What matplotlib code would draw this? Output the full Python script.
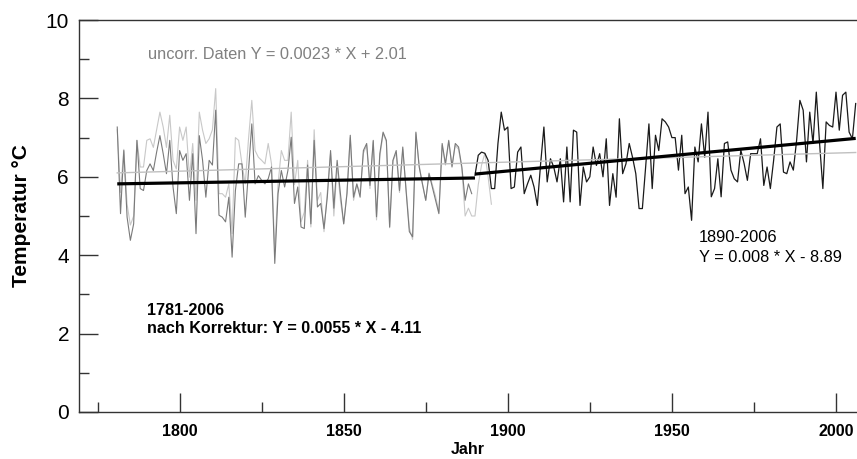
import matplotlib
matplotlib.use("Agg")
import matplotlib.pyplot as plt
import numpy as np

plt.rcParams['font.family'] = ['Liberation Sans', 'DejaVu Sans']

# corrected annual mean temperature, 1781-1889 (grey) and 1890-2006 (black)
years_early = np.arange(1781, 1890)
temp_early = [
    7.27, 5.06, 6.67, 4.97, 4.38, 4.80, 6.93, 5.70, 5.65, 6.16,
    6.33, 6.16, 6.63, 7.05, 6.59, 6.08, 6.93, 5.74, 5.06, 6.67,
    6.42, 6.59, 5.40, 6.59, 4.55, 7.05, 6.42, 5.48, 6.42, 6.30,
    7.70, 5.02, 4.97, 4.85, 5.48, 3.95, 5.65, 6.33, 6.33, 4.97,
    6.16, 7.35, 5.82, 6.03, 5.91, 5.82, 5.95, 6.25, 3.79, 5.57,
    6.16, 5.74, 6.16, 7.01, 5.32, 5.74, 4.72, 4.68, 6.30, 4.80,
    6.93, 5.23, 5.32, 4.68, 5.48, 6.67, 5.20, 6.42, 5.57, 4.80,
    5.57, 7.06, 5.48, 5.82, 5.48, 6.67, 6.85, 5.78, 6.93, 4.98,
    6.59, 7.14, 6.93, 4.72, 6.42, 6.67, 5.65, 6.76, 5.65, 4.60,
    4.47, 7.14, 6.25, 5.82, 5.40, 6.08, 5.74, 5.40, 5.06, 6.85,
    6.33, 6.93, 6.25, 6.85, 6.76, 6.25, 5.40, 5.82, 5.57,
]

years_late = np.arange(1890, 2007)
temp_late = [
    6.04, 6.55, 6.63, 6.60, 6.42, 5.70, 5.70, 6.85, 7.65, 7.19,
    7.27, 5.70, 5.74, 6.63, 6.76, 5.57, 5.82, 6.04, 5.74, 5.27,
    6.33, 7.27, 5.87, 6.46, 6.25, 5.87, 6.46, 5.36, 6.76, 5.36,
    7.19, 7.14, 5.27, 6.25, 5.87, 6.00, 6.76, 6.29, 6.59, 6.00,
    6.97, 5.27, 6.08, 5.48, 7.48, 6.08, 6.33, 6.85, 6.50, 6.08,
    5.19, 5.19, 6.25, 7.35, 5.70, 7.06, 6.67, 7.48, 7.40, 7.27,
    7.00, 7.00, 6.17, 7.06, 5.57, 5.74, 4.89, 6.76, 6.38, 7.35,
    6.50, 7.65, 5.49, 5.70, 6.46, 5.49, 6.85, 6.89, 6.17, 5.95,
    5.87, 6.68, 6.34, 5.91, 6.59, 6.59, 6.59, 6.97, 5.78, 6.25,
    5.70, 6.42, 7.27, 7.35, 6.12, 6.08, 6.38, 6.17, 6.93, 7.95,
    7.70, 6.38, 7.65, 6.85, 8.16, 6.85, 5.70, 7.40, 7.31, 7.27,
    8.16, 7.19, 8.08, 8.16, 7.14, 6.97, 7.87,
]

# uncorrected data (light grey), 1781-1895
years_uncorr = np.arange(1781, 1896)
temp_uncorr = [
    7.20, 5.60, 6.70, 5.30, 4.77, 5.00, 6.93, 6.25, 6.25, 6.93,
    6.97, 6.75, 7.20, 7.65, 7.27, 6.75, 7.57, 6.42, 6.20, 7.27,
    6.93, 7.27, 5.99, 6.85, 5.40, 7.65, 7.19, 6.85, 6.97, 7.20,
    8.25, 5.57, 5.57, 5.48, 5.82, 4.55, 7.00, 6.93, 6.33, 5.82,
    6.97, 7.95, 6.67, 6.50, 6.42, 6.33, 6.85, 6.33, 4.09, 5.82,
    6.67, 6.42, 6.42, 7.65, 5.80, 6.42, 4.85, 5.10, 6.42, 4.72,
    7.20, 5.40, 5.60, 4.60, 5.60, 6.60, 5.00, 6.30, 5.40, 4.80,
    5.60, 7.00, 5.40, 5.80, 5.60, 6.60, 6.80, 5.70, 6.90, 4.90,
    6.50, 7.10, 6.90, 4.70, 6.40, 6.60, 5.60, 6.70, 5.70, 4.70,
    4.40, 7.10, 6.30, 5.80, 5.40, 6.10, 5.80, 5.50, 5.10, 6.80,
    6.30, 6.90, 6.30, 6.80, 6.70, 6.20, 5.00, 5.20, 5.00, 5.00,
    5.80, 6.30, 6.60, 6.00, 5.30,
]

# trend lines
trend_early_x = [1781, 1890]
trend_early_y = [5.82, 5.97]
trend_late_x = [1890, 2006]
trend_late_y = [6.07, 6.98]
trend_uncorr_x = [1781, 2006]
trend_uncorr_y = [6.10, 6.62]


def main():
    fig = plt.figure(figsize=(8.57, 4.59), dpi=100)
    ax = fig.add_axes([0.092, 0.1024, 0.908, 0.854])

    ax.plot(years_uncorr, temp_uncorr, color='#c8c8c8', lw=0.8)
    ax.plot(years_early, temp_early, color='#7a7a7a', lw=0.8)
    ax.plot(years_late, temp_late, color='#1a1a1a', lw=0.9)

    ax.plot(trend_uncorr_x, trend_uncorr_y, color='#c0c0c0', lw=1.0)
    ax.plot(trend_early_x, trend_early_y, color='black', lw=2.3, solid_capstyle='butt')
    ax.plot(trend_late_x, trend_late_y, color='black', lw=2.3, solid_capstyle='butt')

    ax.set_xlim(1769.3, 2006.4)
    ax.set_ylim(0, 10)
    ax.set_xticks([1800, 1850, 1900, 1950, 2000])
    ax.set_xticks([1775, 1825, 1875, 1925, 1975], minor=True)
    ax.set_yticks([0, 2, 4, 6, 8, 10])
    ax.set_yticks([1, 3, 5, 7, 9], minor=True)

    ax.tick_params(which='both', direction='in', color='#333333', width=1.0)
    ax.tick_params(which='major', length=14)
    ax.tick_params(which='minor', length=7.5)
    ax.tick_params(axis='y', labelsize=15, pad=7)
    ax.tick_params(axis='x', labelsize=11.5, pad=9)
    for lab in ax.get_xticklabels():
        lab.set_fontweight('bold')

    ax.spines['right'].set_visible(False)
    for s in ['left', 'bottom', 'top']:
        ax.spines[s].set_color('#333333')
        ax.spines[s].set_linewidth(1.0)

    ax.set_xlabel('Jahr', fontsize=11.5, fontweight='bold', labelpad=2)
    fig.text(22 / 857, 1 - 216 / 459, 'Temperatur °C', rotation=90,
             fontsize=15, fontweight='bold', ha='center', va='center')

    ax.text(1790.4, 9.13, 'uncorr. Daten Y = 0.0023 * X + 2.01',
            fontsize=11.8, color='#808080', va='center')
    ax.text(1958.3, 4.44, '1890-2006', fontsize=11.8, va='center')
    ax.text(1958.3, 3.95, 'Y = 0.008 * X - 8.89', fontsize=11.8, va='center')
    ax.text(1790.1, 2.6, '1781-2006', fontsize=11.6, fontweight='bold', va='center')
    ax.text(1790.1, 2.12, 'nach Korrektur: Y = 0.0055 * X - 4.11',
            fontsize=11.6, fontweight='bold', va='center')

    fig.savefig('out.png', dpi=100)


if __name__ == "__main__":
    main()
